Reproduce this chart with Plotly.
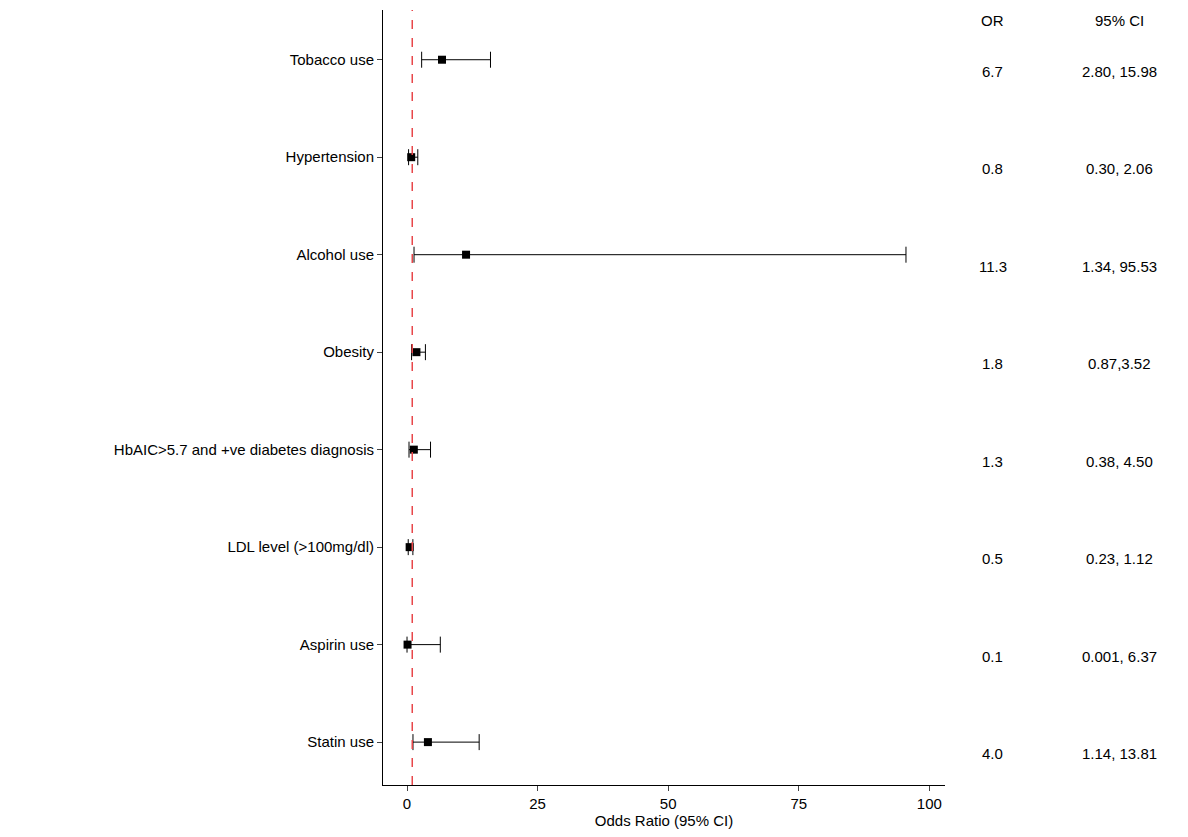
import plotly.graph_objects as go

labels = ["Tobacco use", "Hypertension", "Alcohol use", "Obesity",
          "HbAIC>5.7 and +ve diabetes diagnosis", "LDL level (>100mg/dl)",
          "Aspirin use", "Statin use"]
odds = [6.7, 0.8, 11.3, 1.8, 1.3, 0.5, 0.1, 4.0]
lower = [2.80, 0.30, 1.34, 0.87, 0.38, 0.23, 0.001, 1.14]
upper = [15.98, 2.06, 95.53, 3.52, 4.50, 1.12, 6.37, 13.81]
or_text = ["6.7", "0.8", "11.3", "1.8", "1.3", "0.5", "0.1", "4.0"]
ci_text = ["2.80, 15.98", "0.30, 2.06", "1.34, 95.53", "0.87,3.52",
           "0.38, 4.50", "0.23, 1.12", "0.001, 6.37", "1.14, 13.81"]

n = len(labels)
ypos = [n - 1 - i for i in range(n)]

fig = go.Figure()
fig.add_trace(go.Scatter(
    x=odds, y=ypos, mode="markers",
    marker=dict(symbol="square", size=8, color="black"),
    error_x=dict(type="data", symmetric=False,
                 array=[u - o for u, o in zip(upper, odds)],
                 arrayminus=[o - l for o, l in zip(odds, lower)],
                 color="black", thickness=1, width=8),
    showlegend=False,
))
fig.add_vline(x=1, line=dict(color="#e8474a", dash="dash", width=1.5))

font = dict(family="Liberation Sans, Arial", size=15, color="black")
or_x, ci_x = 1.085, 1.311
fig.add_annotation(x=or_x, y=1.0, xref="paper", yref="paper", text="OR",
                   showarrow=False, font=font, yanchor="top", xanchor="center")
fig.add_annotation(x=ci_x, y=1.0, xref="paper", yref="paper", text="95% CI",
                   showarrow=False, font=font, yanchor="top", xanchor="center")
for y, a, b in zip(ypos, or_text, ci_text):
    fig.add_annotation(x=or_x, y=y - 0.12, xref="paper", yref="y", text=a,
                       showarrow=False, font=font, xanchor="center")
    fig.add_annotation(x=ci_x, y=y - 0.12, xref="paper", yref="y", text=b,
                       showarrow=False, font=font, xanchor="center")

fig.update_layout(
    width=1172, height=821,
    margin=dict(l=375, r=235, t=2, b=44),
    plot_bgcolor="white", paper_bgcolor="white",
    font=font,
    xaxis=dict(range=[-4.6, 103], tickvals=[0, 25, 50, 75, 100],
               showgrid=False, zeroline=False, showline=True,
               linecolor="black", ticks="outside", ticklen=5,
               title=dict(text="Odds Ratio (95% CI)", standoff=0,
                          font=dict(size=15))),
    yaxis=dict(range=[-0.44, 7.51], tickvals=ypos, ticktext=labels,
               showgrid=False, zeroline=False, showline=True,
               linecolor="black", ticks="outside", ticklen=5),
)
fig.write_html("out.html")
